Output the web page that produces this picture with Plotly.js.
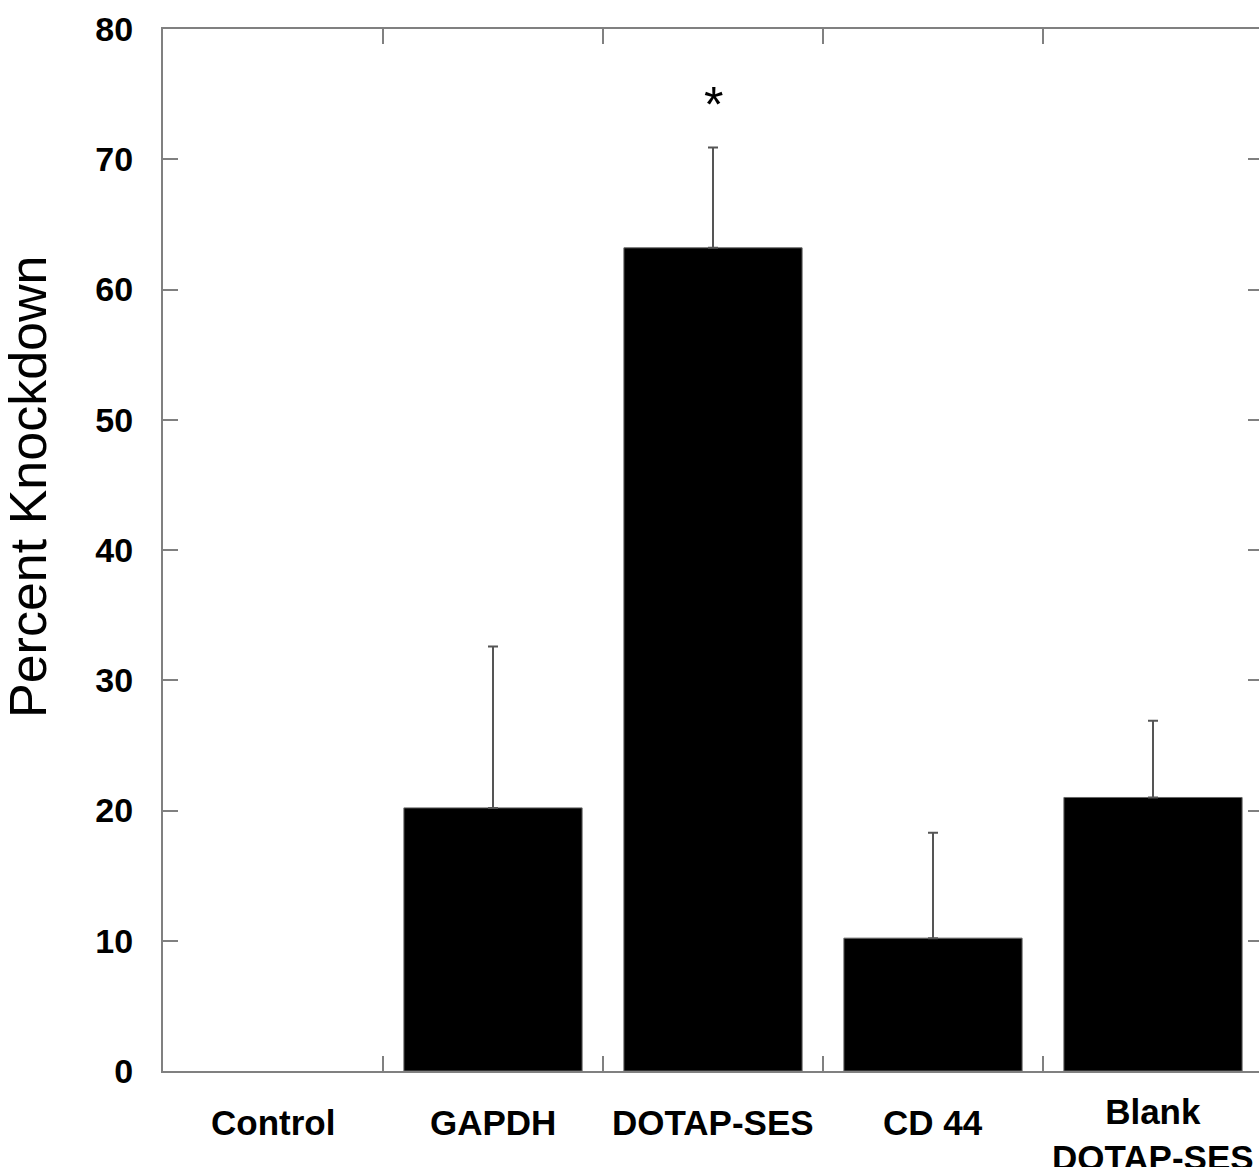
<!DOCTYPE html>
<html>
<head>
<meta charset="utf-8">
<script src="https://cdn.plot.ly/plotly-3.0.1.min.js"></script>
<style>
html, body { margin: 0; padding: 0; overflow: hidden; background: #fff; }
#chart { width: 1280px; height: 1167px; }
</style>
</head>
<body>
<div id="chart"></div>
<script>
const categories = ['Control', 'GAPDH', 'DOTAP-SES', 'CD 44', 'Blank<br>DOTAP-SES'];
const knockdown = [0, 20.2, 63.2, 10.2, 21.0];
const errorUp = [0, 12.4, 7.7, 8.1, 5.9];
const errorDown = [0, 0, 0, 0, 0];
const yTicks = [0, 10, 20, 30, 40, 50, 60, 70, 80];
const yTitle = 'Percent Knockdown';
const significance = [{ category: 'DOTAP-SES', y: 74.2, text: '*' }];

const spine = '#808080';
const FONT = 'Liberation Sans, Arial, sans-serif';

const trace = {
  type: 'bar',
  x: categories,
  // a zero-height bar (Control) draws nothing in the reference
  y: knockdown.map(v => (v > 0 ? v : null)),
  marker: {
    color: '#000000',
    line: { color: '#666666', width: 1 }
  },
  error_y: {
    type: 'data', symmetric: false, array: errorUp, arrayminus: errorDown,
    color: '#555555', thickness: 2, width: 5
  },
  hoverinfo: 'skip'
};

const labelAnnotations = categories.map(c => {
  const lines = c.split('<br>').length;
  return {
    x: c, xref: 'x', y: 0, yref: 'paper', text: '<b>' + c + '</b>',
    showarrow: false, xanchor: 'center', yanchor: 'top',
    yshift: lines > 1 ? -19 : -30,
    font: { size: 35, family: FONT, color: '#000' }
  };
});

const layout = {
  width: 1280, height: 1167,
  margin: { l: 163, r: 17, t: 29, b: 96 },
  paper_bgcolor: '#ffffff', plot_bgcolor: '#ffffff',
  showlegend: false,
  bargap: 0.19,
  font: { family: FONT, color: '#000' },
  xaxis: {
    type: 'category', range: [-0.5, 4.5],
    showline: true, linecolor: spine, linewidth: 2, mirror: 'ticks',
    ticks: 'inside', tickson: 'boundaries', ticklen: 15, tickwidth: 2, tickcolor: spine,
    showgrid: false, zeroline: false, showticklabels: false
  },
  yaxis: {
    range: [0, 80], tickvals: yTicks, ticktext: yTicks.map(String),
    showline: true, linecolor: spine, linewidth: 2, mirror: 'ticks',
    ticks: 'inside', ticklen: 15, tickwidth: 2, tickcolor: spine,
    showgrid: false, zeroline: false,
    tickfont: { size: 34, family: FONT, weight: 'bold' },
    ticklabelstandoff: 21
  },
  annotations: [
    ...labelAnnotations,
    {
      x: -0.1227, xref: 'paper', y: 0.5605, yref: 'paper', text: yTitle,
      textangle: -90, showarrow: false, xanchor: 'center', yanchor: 'middle',
      font: { size: 52, family: FONT, color: '#000' }
    },
    ...significance.map(s => ({
      x: s.category, y: s.y, xref: 'x', yref: 'y', text: s.text, showarrow: false,
      font: { size: 50, family: FONT, color: '#000' },
      yanchor: 'middle'
    }))
  ]
};

Plotly.newPlot('chart', [trace], layout, { staticPlot: true, displayModeBar: false });
</script>
</body>
</html>
